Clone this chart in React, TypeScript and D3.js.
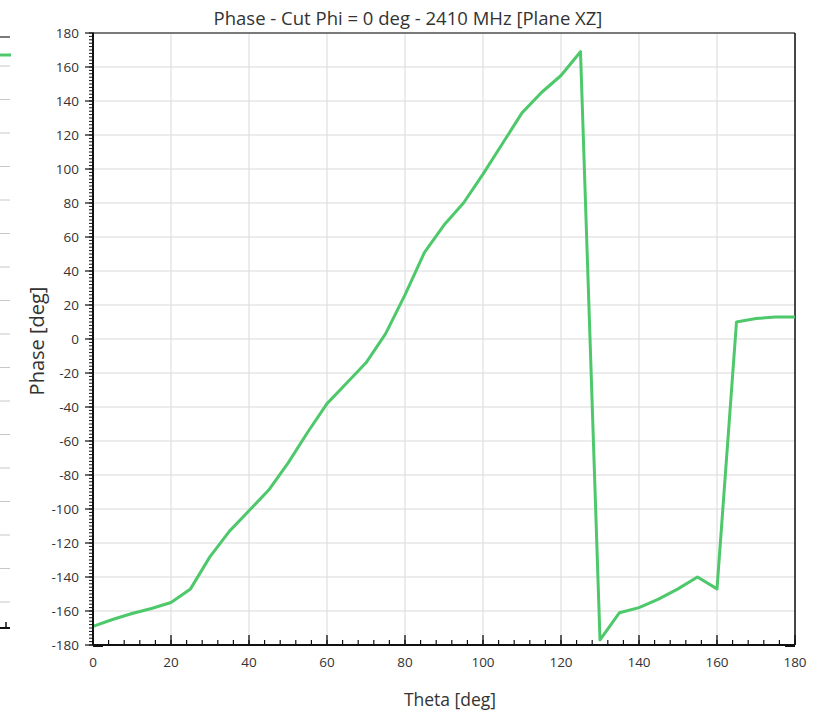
import React from "react";
import { scaleLinear, line, range } from "d3";

const title = "Phase - Cut Phi = 0 deg - 2410 MHz [Plane XZ]";
const thetaDeg = [
  0, 5, 10, 15, 20, 25, 30, 35, 40, 45, 50, 55, 60, 65, 70, 75, 80, 85, 90,
  95, 100, 105, 110, 115, 120, 125, 130, 135, 140, 145, 150, 155, 160, 165,
  170, 175, 180
];
const phaseDeg = [
  -169, -165, -161.5, -158.5, -155, -147, -128, -113, -101, -89, -73, -55,
  -38, -26, -14, 3, 26, 51, 67, 80, 97, 115, 133, 145, 155, 169, -177, -161,
  -158, -153, -147, -140, -147, 10, 12, 13, 13
];
const xTicks = [0, 20, 40, 60, 80, 100, 120, 140, 160, 180];
const yTicks = [
  180, 160, 140, 120, 100, 80, 60, 40, 20, 0, -20, -40, -60, -80, -100, -120,
  -140, -160, -180
];

export default function App() {
  const width = 817,
    height = 717;
  const margin = { top: 33, right: 22, bottom: 72, left: 93 };
  const innerW = width - margin.left - margin.right;
  const innerH = height - margin.top - margin.bottom;

  const x = scaleLinear().domain([0, 180]).range([0, innerW]);
  const y = scaleLinear().domain([-180, 180]).range([innerH, 0]);

  const points = thetaDeg.map((t, i) => [t, phaseDeg[i]] as [number, number]);
  const path = line<[number, number]>()
    .x(d => x(d[0]))
    .y(d => y(d[1]))(points);

  const xMinor = range(0, 181, 4);
  const yMinor = range(-180, 181, 2);
  const font = "'Open Sans', 'Noto Sans', sans-serif";
  // cropped legend / neighbour panel on the far left
  const leftDecor = range(0, 17).map(i => 66 + i * 33.5);

  return (
    <svg
      width={width}
      height={height}
      style={{ position: "absolute", left: 0, top: 0, background: "#fff" }}
    >
      <line x1={0} x2={10} y1={37} y2={37} stroke="#222" strokeWidth={1.2} />
      <line x1={0} x2={11} y1={55} y2={55} stroke="#4dc86b" strokeWidth={3} />
      {leftDecor.map(d => (
        <line key={d} x1={0} x2={10} y1={d} y2={d} stroke="#c8c8c8" strokeWidth={1} />
      ))}
      <line x1={0} x2={10} y1={628} y2={628} stroke="#111" strokeWidth={2} />
      <line x1={6} x2={6} y1={622} y2={628} stroke="#111" strokeWidth={1.5} />

      <text
        x={408}
        y={25}
        textAnchor="middle"
        fontFamily={font}
        fontSize={18.5}
        fill="#333"
      >
        {title}
      </text>

      <g transform={`translate(${margin.left}, ${margin.top})`}>
        {xTicks.map(t => (
          <line key={"gx" + t} x1={x(t)} x2={x(t)} y1={0} y2={innerH} stroke="#d9d9d9" strokeWidth={1} />
        ))}
        {yTicks.map(t => (
          <line key={"gy" + t} x1={0} x2={innerW} y1={y(t)} y2={y(t)} stroke="#d9d9d9" strokeWidth={1.2} />
        ))}

        <line x1={0} x2={innerW} y1={0} y2={0} stroke="#7a7a7a" strokeWidth={2} />
        <line x1={innerW} x2={innerW} y1={0} y2={innerH} stroke="#111" strokeWidth={1.5} />

        <path d={path ?? ""} fill="none" stroke="#4dc86b" strokeWidth={3} strokeLinejoin="round" />

        {/* x axis */}
        {xMinor.map(t => (
          <line key={"mx" + t} x1={x(t)} x2={x(t)} y1={innerH} y2={innerH - 5} stroke="#111" strokeWidth={1.2} />
        ))}
        {xTicks.map(t => (
          <line key={"tx" + t} x1={x(t)} x2={x(t)} y1={innerH} y2={innerH - 10} stroke="#111" strokeWidth={1.3} />
        ))}
        <line x1={0} x2={innerW} y1={innerH} y2={innerH} stroke="#111" strokeWidth={2} />
        <rect x={0} y={innerH - 1} width={10} height={3} fill="#111" />
        <rect x={innerW - 10} y={innerH - 1} width={10} height={3} fill="#111" />
        {xTicks.map(t => (
          <text key={"lx" + t} x={x(t)} y={innerH + 22} textAnchor="middle" fontFamily={font} fontSize={13.5} fill="#333">
            {t}
          </text>
        ))}

        {/* y axis */}
        {yMinor.map(t => (
          <line key={"my" + t} x1={-4} x2={1} y1={y(t)} y2={y(t)} stroke="#111" strokeWidth={1} />
        ))}
        {yTicks.map(t => (
          <line key={"ty" + t} x1={-8} x2={0} y1={y(t)} y2={y(t)} stroke="#111" strokeWidth={1.2} />
        ))}
        <line x1={0} x2={0} y1={0} y2={innerH} stroke="#111" strokeWidth={2} />
        {yTicks.map(t => (
          <text key={"ly" + t} x={-14} y={y(t)} dy="0.35em" textAnchor="end" fontFamily={font} fontSize={13.5} fill="#333">
            {t}
          </text>
        ))}
      </g>

      <text
        transform={`translate(44, ${margin.top + innerH / 2 + 2}) rotate(-90)`}
        textAnchor="middle"
        fontFamily={font}
        fontSize={20}
        fill="#333"
      >
        Phase [deg]
      </text>
      <text
        x={margin.left + innerW / 2 + 6}
        y={706}
        textAnchor="middle"
        fontFamily={font}
        fontSize={17.5}
        fill="#333"
      >
        Theta [deg]
      </text>
    </svg>
  );
}
